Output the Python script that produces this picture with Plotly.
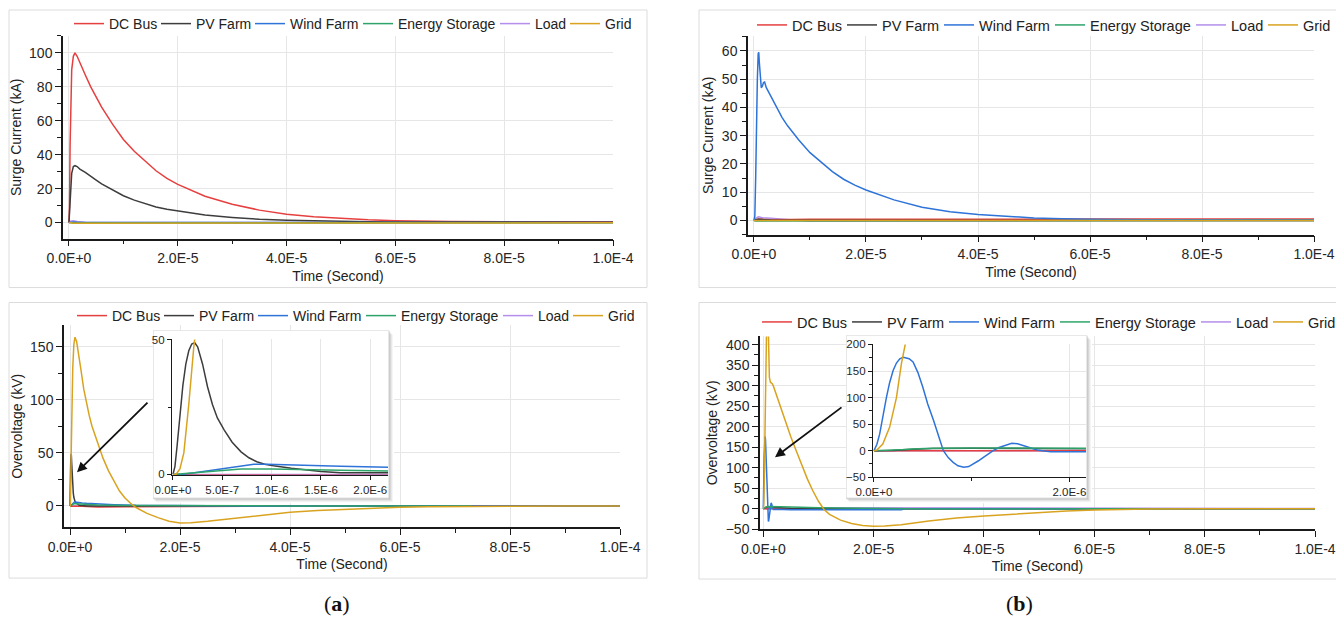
import plotly.graph_objects as go

# The page body adds an 8 px margin, so the figure is 8 px smaller and every
# screen position below is shifted by that offset.
OFF = 8
W, H = 1344 - OFF, 617 - OFF
FONT = "Liberation Sans, Arial, sans-serif"

SERIES = ["DC Bus", "PV Farm", "Wind Farm", "Energy Storage", "Load", "Grid"]
SERIES_COLORS = ["#E5403F", "#3D3D3D", "#2E73D8", "#2FA46A", "#B48EEA", "#D9A320"]
LEGEND_ENTRY_WIDTH_A = [42, 49, 63, 92, 25, 21]
LEGEND_ENTRY_WIDTH_B = [45, 52, 66, 96, 27, 22]
DRAW_ORDER = ["Load", "DC Bus", "PV Farm", "Wind Farm", "Energy Storage", "Grid"]

X_TICK_VALS = [0, 2e-5, 4e-5, 6e-5, 8e-5, 1e-4]
X_TICK_TEXT = ["0.0E+0", "2.0E-5", "4.0E-5", "6.0E-5", "8.0E-5", "1.0E-4"]
INSET_A_TICK_VALS = [0, 5e-7, 1e-6, 1.5e-6, 2e-6]
INSET_A_TICK_TEXT = ["0.0E+0", "5.0E-7", "1.0E-6", "1.5E-6", "2.0E-6"]
INSET_B_TICK_VALS = [0, 2e-6]
INSET_B_TICK_TEXT = ["0.0E+0", "2.0E-6"]

# ---------------- (a) surge current, kA  (time in microseconds) ----------------
t_at = [0, 0.1, 0.2, 0.3, 0.5, 0.8, 1.1, 1.5, 2, 3, 4, 5, 6, 8, 10, 12, 14, 16, 18, 20,
        25, 30, 35, 40, 45, 50, 55, 60, 65, 70, 80, 90, 100]
at_dc = [0, 10, 45, 72, 90, 98, 100, 98, 94, 87, 80, 74, 68, 58, 49, 42, 36, 30.5, 26, 22.5,
         15.5, 10.8, 7.3, 4.9, 3.4, 2.4, 1.6, 1.1, 0.8, 0.6, 0.5, 0.4, 0.4]
at_pv = [0, 5, 12, 20, 29, 33, 33.5, 33, 31.5, 29.5, 27, 25, 22.8, 19.2, 15.8, 13.2, 11, 9.2, 7.8, 6.7,
         4.4, 3.0, 1.9, 1.3, 0.9, 0.6, 0.45, 0.35, 0.3, 0.25, 0.2, 0.2, 0.2]
t_at_s = [0, 0.3, 0.8, 1.5, 3, 10, 30, 60, 100]
at_wind = [0, 0.2, 0.3, 0.2, 0.1, 0, 0, 0, 0]
at_es = [0, -0.2, -0.3, -0.3, -0.3, -0.3, -0.2, -0.1, -0.1]
at_load = [0, 0.8, 1.0, 0.6, 0.2, 0, 0, 0, 0]
at_grid = [0, -0.2, -0.4, -0.4, -0.4, -0.4, -0.3, -0.2, -0.2]

# ---------------- (b) surge current, kA ----------------
t_bt = [0, 0.15, 0.3, 0.45, 0.6, 0.75, 0.85, 0.95, 1.1, 1.3, 1.5, 1.7, 1.9, 2.2, 3, 4, 5, 6, 8, 10,
        12, 14, 16, 18, 20, 25, 30, 35, 40, 45, 50, 55, 60, 70, 80, 90, 100]
bt_wind = [0, 1.5, 15, 38, 50, 59, 59.5, 56, 50, 47, 47.5, 48.8, 49, 47, 44, 40, 36.5, 33.5, 28.5, 24,
           20.5, 17.3, 14.6, 12.5, 10.8, 7.3, 4.7, 3.1, 2.1, 1.4, 0.9, 0.6, 0.4, 0.3, 0.2, 0.2, 0.2]
t_bt_s = [0, 0.3, 0.8, 1.5, 3, 10, 30, 60, 100]
bt_dc = [0, 0.2, 0.5, 0.4, 0.3, 0.4, 0.5, 0.5, 0.5]
bt_pv = [0, 0.3, 0.4, 0.3, 0.2, 0.1, 0, 0, 0]
bt_es = [0, -0.2, -0.2, -0.2, -0.2, -0.1, 0, 0, 0]
bt_load = [0, 0.8, 1.3, 1.0, 0.8, -0.3, -0.2, 0, 0]
bt_grid = [0, 0, -0.1, -0.1, -0.1, -0.1, -0.1, 0, 0]

# ---------------- (a) overvoltage, kV ----------------
t_ab_grid = [0, 0.03, 0.07, 0.11, 0.16, 0.21, 0.25, 0.3, 0.4, 0.5, 0.7, 0.9, 1.2, 1.6, 2, 2.5, 3, 3.5,
             4, 5, 6, 7, 8, 9, 10, 11, 12, 13, 14, 16, 18, 20, 22, 25, 30, 35, 40, 45, 50, 55, 60,
             65, 70, 80, 90, 100]
ab_grid = [0, 0, 2, 8, 26, 47, 60, 75, 105, 130, 152, 159, 155, 143, 128, 110, 96, 85,
           75, 59, 45, 33, 23, 14, 7.5, 2.5, -1.5, -4.5, -7, -11, -14.5, -16, -15.8, -14.5, -11.6,
           -8.7, -6, -4.3, -3.1, -2, -1.3, -0.8, -0.5, -0.2, 0, 0]
t_ab_pv = [0, 0.02, 0.04, 0.07, 0.1, 0.13, 0.16, 0.19, 0.22, 0.25, 0.3, 0.35, 0.4, 0.45, 0.52, 0.6,
           0.69, 0.77, 0.85, 0.93, 1.02, 1.2, 1.36, 1.5, 1.7, 2.0, 2.2, 3, 5, 10, 30, 100]
ab_pv = [0, 3, 10, 22, 33, 41, 46, 48.5, 49, 47.5, 41, 32.6, 26, 21, 16.5, 12,
         8.4, 6.2, 4.7, 3.8, 3.2, 2.3, 1.6, 1.1, 0.6, 0.3, 0.1, 0, 0, 0, 0, 0]
t_ab_wind = [0, 0.1, 0.2, 0.3, 0.4, 0.55, 0.69, 0.82, 0.95, 1.1, 1.36, 1.7, 2.2, 3, 5, 8, 12, 20, 32, 100]
ab_wind = [0, 0.1, 0.5, 1.0, 1.6, 2.5, 3.2, 3.8, 3.8, 3.6, 3.3, 3.0, 2.7, 2.4, 1.8, 1.2, 0.6, 0.2, 0, 0]
t_ab_es = [0, 0.1, 0.2, 0.4, 0.69, 1.0, 1.36, 1.7, 2.2, 5, 10, 20, 40, 73]
ab_es = [0, 0.3, 0.7, 1.4, 2.0, 2.0, 1.9, 1.6, 1.3, 0.8, 0.4, 0.1, 0, 0]
t_ab_dc = [0, 0.2, 2.2, 5, 10, 20, 32, 100]
ab_dc = [0, -0.3, -0.4, -1.0, -0.8, -0.5, -0.2, 0]
t_ab_load = [0, 100]
ab_load = [0, 0]

# ---------------- (b) overvoltage, kV ----------------
t_bb_grid = [0, 0.03, 0.09, 0.16, 0.23, 0.28, 0.32, 0.4, 0.5, 0.6, 0.75, 0.9, 1.0, 1.1, 1.3, 1.6, 1.8,
             2, 3, 4, 5, 6, 7, 8, 9, 10, 11, 12, 14, 16, 18, 20, 22, 25, 30, 35, 40, 45, 50, 55, 60,
             65, 70, 80, 90, 100]
bb_grid = [0, 1.3, 12.6, 44, 100, 163, 200, 300, 400, 450, 470, 440, 380, 320, 308, 305, 300,
           292, 255, 215, 175, 140, 105, 72, 43, 18, -2, -14, -28, -36, -41, -43, -42.5, -39, -30,
           -23, -18, -13.5, -10, -6, -3.5, -2, -1, -0.3, 0, 0]
t_bb_wind = [0, 0.03, 0.058, 0.09, 0.127, 0.16, 0.196, 0.23, 0.264, 0.3, 0.33, 0.36, 0.4, 0.45, 0.5,
             0.55, 0.61, 0.66, 0.71, 0.76, 0.81, 0.86, 0.92, 0.97, 1.02, 1.07, 1.12, 1.17, 1.22, 1.28,
             1.33, 1.41, 1.47, 1.53, 1.6, 1.67, 1.74, 1.81, 1.95, 2.2, 5, 10, 25, 26, 100]
bb_wind = [0, 12, 31, 65, 100, 128, 151, 165, 173, 176, 175, 173, 167, 147, 119.5,
           88, 56.6, 27, 0, -13, -22, -28.5, -31.4, -30, -25, -19, -12.6, -6, 0, 6,
           9.4, 13.8, 13, 9.4, 5, 1.3, -0.8, -1.9, -1.9, -1.5, -2.5, -3, -3, 0, 0]
t_bb_es = [0, 0.15, 0.3, 0.45, 0.6, 1.0, 1.5, 2.2, 5, 10, 20, 30, 60, 100]
bb_es = [0, 0.5, 2, 3.8, 4.8, 5, 4.7, 4.5, 4, 2, 0, -1, -0.5, 0]
t_bb_pv = [0, 0.2, 0.4, 0.6, 1.0, 1.5, 2.2, 5, 10, 100]
bb_pv = [0, 0.5, 2.5, 4, 4.5, 4, 3, 1, 0, 0]
t_bb_load = [0, 2.2, 8, 9, 34, 35, 100]
bb_load = [0, 0, 0, 2, 2, 0.5, 0.5]
t_bb_dc = [0, 1.5, 1.7, 1.9, 2.2, 10, 100]
bb_dc = [0, 0, -1, -1, 0, 0, 0]

PANEL_A_TOP = {"DC Bus": (t_at, at_dc), "PV Farm": (t_at, at_pv), "Wind Farm": (t_at_s, at_wind),
               "Energy Storage": (t_at_s, at_es), "Load": (t_at_s, at_load), "Grid": (t_at_s, at_grid)}
PANEL_B_TOP = {"DC Bus": (t_bt_s, bt_dc), "PV Farm": (t_bt_s, bt_pv), "Wind Farm": (t_bt, bt_wind),
               "Energy Storage": (t_bt_s, bt_es), "Load": (t_bt_s, bt_load), "Grid": (t_bt_s, bt_grid)}
PANEL_A_BOT = {"DC Bus": (t_ab_dc, ab_dc), "PV Farm": (t_ab_pv, ab_pv), "Wind Farm": (t_ab_wind, ab_wind),
               "Energy Storage": (t_ab_es, ab_es), "Load": (t_ab_load, ab_load), "Grid": (t_ab_grid, ab_grid)}
PANEL_B_BOT = {"DC Bus": (t_bb_dc, bb_dc), "PV Farm": (t_bb_pv, bb_pv), "Wind Farm": (t_bb_wind, bb_wind),
               "Energy Storage": (t_bb_es, bb_es), "Load": (t_bb_load, bb_load), "Grid": (t_bb_grid, bb_grid)}

COLOR = dict(zip(SERIES, SERIES_COLORS))
ENTRY_W_A = dict(zip(SERIES, LEGEND_ENTRY_WIDTH_A))
ENTRY_W_B = dict(zip(SERIES, LEGEND_ENTRY_WIDTH_B))
RANK = {s: (i + 1) * 10 for i, s in enumerate(SERIES)}


def px_x(x):
    return (x - OFF) / W


def px_y(y):
    return 1 - (y - OFF) / H


fig = go.Figure()


def add_panel(panel, xa, ya, legend=None, entry_w=ENTRY_W_A):
    for name in DRAW_ORDER:
        t, v = panel[name]
        fig.add_trace(go.Scatter(
            x=[ti * 1e-6 for ti in t], y=v, mode="lines", name=name,
            line=dict(color=COLOR[name], width=1.5),
            xaxis=xa, yaxis=ya, legend=legend if legend else "legend",
            legendwidth=entry_w[name],
            showlegend=legend is not None, legendrank=RANK[name], hoverinfo="skip"))


add_panel(PANEL_A_TOP, "x", "y", "legend")
add_panel(PANEL_B_TOP, "x2", "y2", "legend2", ENTRY_W_B)
add_panel(PANEL_A_BOT, "x3", "y3", "legend3")
add_panel(PANEL_B_BOT, "x4", "y4", "legend4", ENTRY_W_B)
# blockers (white inset boxes) live on x5y5 / x7y7, drawn above the main panels
fig.add_trace(go.Scatter(x=[None], y=[None], xaxis="x5", yaxis="y5", showlegend=False, hoverinfo="skip"))
add_panel(PANEL_A_BOT, "x6", "y6")
fig.add_trace(go.Scatter(x=[None], y=[None], xaxis="x7", yaxis="y7", showlegend=False, hoverinfo="skip"))
add_panel(PANEL_B_BOT, "x8", "y8")

TICKFONT = dict(family=FONT, size=14, color="#262626")
GRID = "#E6E6E6"


def main_x(l, r, anchor, rng, standoff=6):
    return dict(domain=[px_x(l), px_x(r)], anchor=anchor, range=rng,
                tickmode="array", tickvals=X_TICK_VALS, ticktext=X_TICK_TEXT,
                showline=True, linecolor="#1A1A1A", linewidth=1.5, mirror=False,
                ticks="outside", ticklen=6, tickwidth=1.2, tickcolor="#1A1A1A",
                showgrid=True, gridcolor=GRID, gridwidth=1, zeroline=False,
                tickfont=TICKFONT, automargin=False, fixedrange=True,
                minor=dict(tickmode="linear", tick0=0, dtick=1e-5, ticks="outside", ticklen=4,
                           tickcolor="#1A1A1A", tickwidth=1, showgrid=False),
                title=dict(text="Time (Second)", font=dict(family=FONT, size=14, color="#222"),
                           standoff=standoff))


def main_y(b, t, anchor, rng, dtick, minor, title, standoff=4):
    return dict(domain=[px_y(b), px_y(t)], anchor=anchor, range=rng,
                tickmode="linear", tick0=0, dtick=dtick,
                showline=True, linecolor="#1A1A1A", linewidth=1.5,
                ticks="outside", ticklen=6, tickwidth=1.2, tickcolor="#1A1A1A",
                showgrid=True, gridcolor=GRID, gridwidth=1, zeroline=False,
                tickfont=TICKFONT, automargin=False, fixedrange=True,
                minor=dict(tickmode="linear", tick0=0, dtick=minor, ticks="outside", ticklen=4,
                           tickcolor="#1A1A1A", tickwidth=1, showgrid=False),
                title=dict(text=title, font=dict(family=FONT, size=14, color="#222"),
                           standoff=standoff))


INSET_FONT = dict(family=FONT, size=11.5, color="#262626")


def inset_x(l, r, anchor, rng, vals, text, minor_dtick=None):
    d = dict(domain=[px_x(l), px_x(r)], anchor=anchor, range=rng,
             tickmode="array", tickvals=vals, ticktext=text,
             showline=True, linecolor="#1A1A1A", linewidth=1.3,
             ticks="outside", ticklen=4, tickwidth=1, tickcolor="#1A1A1A",
             showgrid=True, gridcolor=GRID, zeroline=False, tickfont=INSET_FONT,
             automargin=False, fixedrange=True)
    if minor_dtick:
        d["minor"] = dict(tickmode="linear", tick0=0, dtick=minor_dtick, ticks="outside",
                          ticklen=3, tickcolor="#1A1A1A", showgrid=False)
    return d


def inset_y(b, t, anchor, rng, dtick, minor_dtick, grid):
    return dict(domain=[px_y(b), px_y(t)], anchor=anchor, range=rng,
                tickmode="linear", tick0=0, dtick=dtick,
                showline=True, linecolor="#1A1A1A", linewidth=1.3,
                ticks="outside", ticklen=4, tickwidth=1, tickcolor="#1A1A1A",
                showgrid=grid, gridcolor=GRID, zeroline=False, tickfont=INSET_FONT,
                automargin=False, fixedrange=True,
                minor=dict(tickmode="linear", tick0=0, dtick=minor_dtick, ticks="outside",
                           ticklen=3, tickcolor="#1A1A1A", showgrid=False))


BOX_A = (153, 330, 389, 498)
BOX_B = (846, 335, 1087, 498)
PAD = 5


def blocker_axes(box, anchor_x, anchor_y):
    x0, y0, x1, y1 = box
    xa = dict(domain=[px_x(x0), px_x(x1 + PAD)], range=[x0, x1 + PAD], visible=False,
              anchor=anchor_y, fixedrange=True, showgrid=False, zeroline=False)
    ya = dict(domain=[px_y(y1 + PAD), px_y(y0)], range=[y1 + PAD, y0], visible=False,
              anchor=anchor_x, fixedrange=True, showgrid=False, zeroline=False)
    return xa, ya


def blocker_shapes(box, xr, yr):
    x0, y0, x1, y1 = box
    out = []
    for off, a in [(4, 0.04), (3, 0.05), (2, 0.07), (1, 0.08)]:
        out.append(dict(type="rect", xref=xr, yref=yr, layer="below",
                        x0=x0 + off - 1, x1=x1 + off, y0=y0 + off, y1=y1 + off,
                        fillcolor="rgba(0,0,0,%g)" % a, line=dict(width=0)))
    out.append(dict(type="rect", xref=xr, yref=yr, layer="below", x0=x0, x1=x1, y0=y0, y1=y1,
                    fillcolor="white", line=dict(color="#D0D0D0", width=1)))
    return out


xa5, ya5 = blocker_axes(BOX_A, "x5", "y5")
xa7, ya7 = blocker_axes(BOX_B, "x7", "y7")

frames = []
for (x0, y0, x1, y1) in [(9, 9, 647, 287), (699, 9, 1339, 287), (9, 302, 647, 578), (699, 302, 1339, 579)]:
    frames.append(dict(type="rect", xref="paper", yref="paper", layer="below",
                       x0=px_x(x0), x1=px_x(x1), y0=px_y(y1), y1=px_y(y0),
                       line=dict(color="#DCDCDC", width=1), fillcolor="rgba(0,0,0,0)"))


def legend_at(cx, cy, size=14):
    return dict(orientation="h", x=px_x(cx), y=px_y(cy), xanchor="center", yanchor="middle",
                xref="paper", yref="paper", bgcolor="rgba(0,0,0,0)", borderwidth=0,
                font=dict(family=FONT, size=size, color="#222"), itemwidth=30,
                traceorder="normal")


def panel_label(letter, cx, cy):
    return dict(x=px_x(cx), y=px_y(cy), xref="paper", yref="paper", xanchor="center",
                yanchor="middle", text="(<b>%s</b>)" % letter, showarrow=False,
                font=dict(family="Liberation Serif, DejaVu Serif, serif", size=22, color="#111"))


def arrow(hx, hy, tx, ty):
    return dict(x=px_x(hx), y=px_y(hy), xref="paper", yref="paper", text="", showarrow=True,
                ax=tx - hx, ay=ty - hy, arrowhead=2, arrowsize=1.1, arrowwidth=1.8,
                arrowcolor="#111", standoff=0, startstandoff=0)


fig.update_layout(
    width=W, height=H, margin=dict(l=0, r=0, t=0, b=0),
    paper_bgcolor="white", plot_bgcolor="white",
    font=dict(family=FONT, size=14, color="#222"),
    showlegend=True,
    xaxis=main_x(63, 613, "y", [-1.1e-6, 1e-4]),
    yaxis=main_y(238, 35, "x", [-9.5, 110], 20, 10, "Surge Current (kA)"),
    xaxis2=main_x(748, 1314, "y2", [-1.07e-6, 1e-4]),
    yaxis2=main_y(234, 35, "x2", [-5, 65.3], 10, 5, "Surge Current (kA)", standoff=5),
    xaxis3=main_x(64, 620, "y3", [-1.09e-6, 1e-4]),
    yaxis3=main_y(527, 325, "x3", [-20, 170], 50, 25, "Overvoltage (kV)"),
    xaxis4=main_x(760, 1315, "y4", [-0.6e-6, 1e-4]),
    yaxis4=main_y(529, 336, "x4", [-50, 420], 50, 25, "Overvoltage (kV)", standoff=5),
    xaxis5=xa5, yaxis5=ya5,
    xaxis6=inset_x(172, 388, "y6", [-0.01e-6, 2.18e-6], INSET_A_TICK_VALS, INSET_A_TICK_TEXT),
    yaxis6=inset_y(475, 339, "x6", [-0.3, 50.2], 50, 25, False),
    xaxis7=xa7, yaxis7=ya7,
    xaxis8=inset_x(873, 1086, "y8", [-0.01e-6, 2.17e-6], INSET_B_TICK_VALS, INSET_B_TICK_TEXT, 1e-6),
    yaxis8=inset_y(477, 344, "x8", [-50, 200], 50, 25, True),
    legend=legend_at(350, 23),
    legend2=legend_at(1041, 25, 14.5),
    legend3=legend_at(353, 316),
    legend4=legend_at(1046, 322, 14.5),
    shapes=frames + blocker_shapes(BOX_A, "x5", "y5") + blocker_shapes(BOX_B, "x7", "y7"),
    annotations=[
        arrow(77, 472, 149, 401),
        arrow(775, 457, 843, 406),
        panel_label("a", 337, 603),
        panel_label("b", 1019, 603),
    ],
)

fig.write_html("out.html")
